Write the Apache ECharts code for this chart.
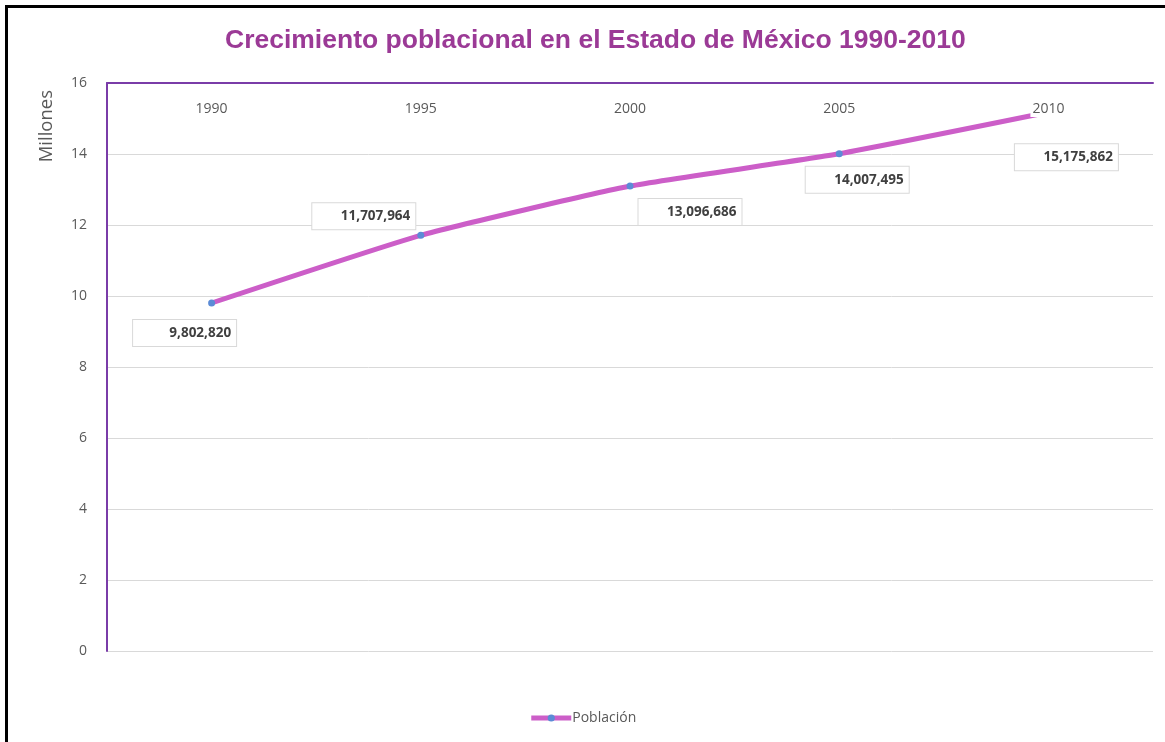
<!DOCTYPE html>
<html>
<head>
<meta charset="utf-8">
<script src="https://cdn.jsdelivr.net/npm/echarts@6/dist/echarts.min.js"></script>
<style>
html,body{margin:0;padding:0;background:#fff;}
#chart{width:1165px;height:742px;}
#frame{position:absolute;left:5px;top:5px;width:1200px;height:800px;border-top:3px solid #000;border-left:3px solid #000;pointer-events:none;}
</style>
</head>
<body>
<div id="chart"></div>
<div id="frame"></div>
<script>
const years = ['1990', '1995', '2000', '2005', '2010'];
const poblacion = [9802820, 11707964, 13096686, 14007495, 15175862];
const yTicks = [0, 2, 4, 6, 8, 10, 12, 14, 16];
const labelOffsets = [[-27, 30], [-57, -19], [60, 26], [18, 26], [18, 45]];

const chart = echarts.init(document.getElementById('chart'));
const fmt = v => v.toLocaleString('en-US');

chart.setOption({
  animation: false,
  backgroundColor: '#fff',
  title: {
    text: 'Crecimiento poblacional en el Estado de México 1990-2010',
    left: 220,
    top: 22,
    textStyle: {fontFamily: 'Liberation Sans, Arial', fontWeight: 'bold', fontSize: 26.5, color: '#9b3a96'}
  },
  legend: {
    bottom: 12,
    left: 'center',
    itemWidth: 40,
    itemHeight: 9,
    itemGap: 4,
    data: ['Población'],
    lineStyle: {width: 5},
    textStyle: {fontFamily: 'Open Sans, Liberation Sans', fontSize: 14, color: '#595959', padding: [0,0,0,-4]}
  },
  grid: {left: 107, right: 12, top: 83, bottom: 91},
  graphic: [{
    type: 'text', left: 37, top: 90, rotation: Math.PI / 2,
    style: {text: 'Millones', fontFamily: 'Open Sans, Liberation Sans', fontSize: 18.5, fill: '#595959'}
  }],
  xAxis: {
    type: 'category',
    position: 'top',
    data: years,
    z: 10,
    axisLine: {show: true, onZero: false, lineStyle: {color: '#7a3ca8', width: 2}},
    axisTick: {show: false},
    axisLabel: {inside: true, margin: 18, fontFamily: 'Open Sans, Liberation Sans', fontSize: 14, color: '#595959', backgroundColor: '#fff', padding: [1, 2]},
    splitLine: {show: false}
  },
  yAxis: {
    type: 'value',
    min: 0, max: 16, interval: 2,
    axisLine: {show: true, lineStyle: {color: '#7a3ca8', width: 2}},
    axisTick: {show: false},
    axisLabel: {margin: 20, fontFamily: 'Open Sans, Liberation Sans', fontSize: 14, color: '#595959',
      formatter: v => yTicks.includes(v) ? String(v) : ''},
    splitLine: {lineStyle: {color: '#d9d9d9', width: 1}}
  },
  series: [{
    name: 'Población',
    type: 'line',
    smooth: 0.15,
    symbol: 'circle',
    symbolSize: 7,
    lineStyle: {color: '#cc5ec8', width: 5},
    itemStyle: {color: '#5b8bd6'},
    z: 3,
    data: poblacion.map((v, i) => ({
      value: v / 1e6,
      label: {offset: labelOffsets[i]}
    })),
    label: {
      show: true,
      position: 'inside',
      formatter: p => '{a|' + fmt(poblacion[p.dataIndex]) + '}',
      backgroundColor: '#fff',
      borderColor: '#d9d9d9',
      borderWidth: 1,
      padding: [0, 5, 0, 0],
      rich: {a: {width: 98, height: 26, lineHeight: 26, align: 'right', fontFamily: 'Open Sans, Liberation Sans', fontWeight: 'bold', fontSize: 13.5, color: '#404040'}}
    }
  }]
});
</script>
</body>
</html>
